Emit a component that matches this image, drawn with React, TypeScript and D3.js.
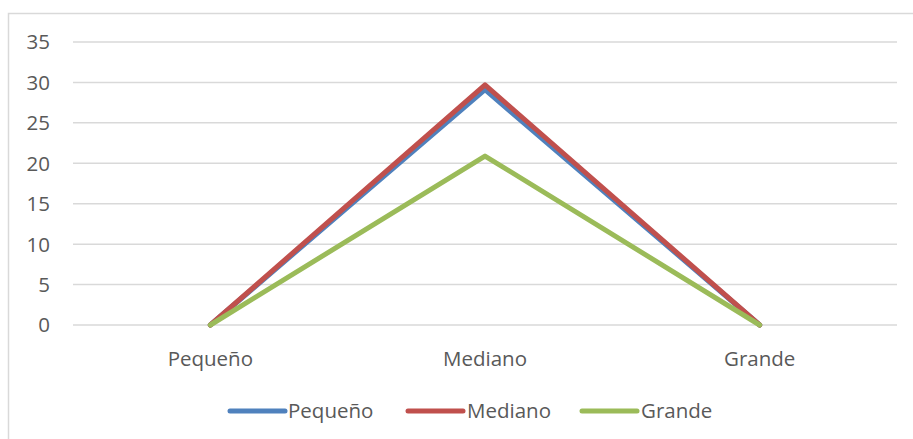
import React from "react";
import * as d3 from "d3";

const categories = ["Pequeño", "Mediano", "Grande"];
const seriesNames = ["Pequeño", "Mediano", "Grande"];
const pequenoValues = [0, 29.1, 0];
const medianoValues = [0, 29.7, 0];
const grandeValues = [0, 20.9, 0];
const yTicks = [0, 5, 10, 15, 20, 25, 30, 35];
const colors = ["#4F81BD", "#C0504D", "#9BBB59"];

const W = 913;
const H = 439;
const plot = { left: 73, right: 897, top: 42, bottom: 325 };
const font = "'Open Sans', 'Noto Sans', sans-serif";
const textColor = "#595959";
const gridColor = "#D9D9D9";

export default function App() {
  const x = d3
    .scaleBand<string>()
    .domain(categories)
    .range([plot.left, plot.right]);
  const y = d3.scaleLinear().domain([0, 35]).range([plot.bottom, plot.top]);

  const line = d3
    .line<number>()
    .x((_, i) => (x(categories[i]) as number) + x.bandwidth() / 2)
    .y((d) => y(d));

  const series = [pequenoValues, medianoValues, grandeValues];

  const legendItems = [
    { x0: 230, x1: 285, tx: 288 },
    { x0: 408, x1: 463, tx: 467 },
    { x0: 582, x1: 637, tx: 641 },
  ];

  return (
    <svg
      width={W}
      height={H}
      style={{ position: "fixed", left: 0, top: 0, background: "#fff" }}
    >
      <rect
        x={8.5}
        y={13.5}
        width={912}
        height={432}
        fill="#fff"
        stroke={gridColor}
        strokeWidth={1.5}
      />
      {yTicks.map((t) => (
        <g key={t}>
          <line
            x1={plot.left}
            x2={plot.right}
            y1={y(t)}
            y2={y(t)}
            stroke={gridColor}
            strokeWidth={1.5}
          />
          <text
            x={50}
            y={y(t)}
            dy="0.36em"
            textAnchor="end"
            fontFamily={font}
            fontSize={20.5}
            fill={textColor}
          >
            {t}
          </text>
        </g>
      ))}
      {categories.map((c) => (
        <text
          key={c}
          x={(x(c) as number) + x.bandwidth() / 2}
          y={366}
          textAnchor="middle"
          fontFamily={font}
          fontSize={20.5}
          fill={textColor}
        >
          {c}
        </text>
      ))}
      {series.map((vals, i) => (
        <path
          key={seriesNames[i]}
          d={line(vals) as string}
          fill="none"
          stroke={colors[i]}
          strokeWidth={5}
          strokeLinecap="round"
          strokeLinejoin="round"
        />
      ))}
      {seriesNames.map((name, i) => (
        <g key={name}>
          <line
            x1={legendItems[i].x0}
            x2={legendItems[i].x1}
            y1={411}
            y2={411}
            stroke={colors[i]}
            strokeWidth={5}
            strokeLinecap="round"
          />
          <text
            x={legendItems[i].tx}
            y={418}
            fontFamily={font}
            fontSize={20.5}
            fill={textColor}
          >
            {name}
          </text>
        </g>
      ))}
    </svg>
  );
}
